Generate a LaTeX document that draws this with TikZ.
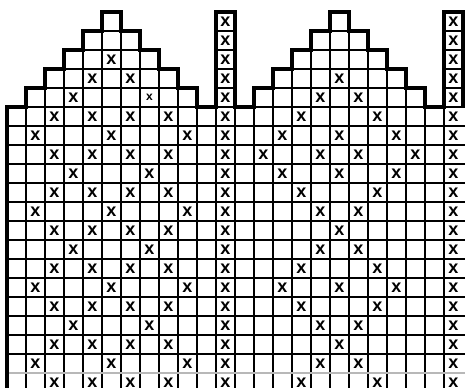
\documentclass[tikz,border=0pt]{standalone}
\usepackage{fontspec}
\setsansfont{Liberation Sans}
\tikzset{
  cell/.style={draw=black, line width=1pt},
  rim/.style={draw=black, line width=2.6pt, line join=miter},
  stitch/.style={inner sep=0pt, font=\sffamily\bfseries\fontsize{13.5}{13.5}\selectfont},
  stitchsm/.style={inner sep=0pt, font=\sffamily\bfseries\fontsize{9}{9}\selectfont},
}

\begin{document}
\begin{tikzpicture}[x=0.5cm, y=0.5cm]
  \useasboundingbox (-0.368,0.632) rectangle (24.105,-19.737);
  \clip (-0.368,0.632) rectangle (24.105,-19.737);

  % peaks, 2 repeats
  \foreach \r in {0,...,4} {
    \foreach \c in {-\r,...,\r} {
      \draw[cell] (5+\c,-\r) rectangle (6+\c,-\r-1);
      \draw[cell] (17+\c,-\r) rectangle (18+\c,-\r-1);
    }
    \draw[cell] (11,-\r) rectangle (12,-\r-1);
    \draw[cell] (23,-\r) rectangle (24,-\r-1);
  }

  % body
  \foreach \r in {5,...,18}
    \draw[cell] (0,-\r) -- (24.2,-\r);
  \foreach \c in {1,...,23}
    \draw[cell] (\c,-5) -- (\c,-20);
  \draw[draw=black!28, line width=1.8pt] (0,-19) -- (24.2,-19);

  % outline
  \draw[rim] (0,-20) -- (0,-5) -- (1,-5) -- (1,-4) -- (2,-4) -- (2,-3) -- (3,-3) -- (3,-2)
    -- (4,-2) -- (4,-1) -- (5,-1) -- (5,0) -- (6,0) -- (6,-1) -- (7,-1) -- (7,-2) -- (8,-2)
    -- (8,-3) -- (9,-3) -- (9,-4) -- (10,-4) -- (10,-5) -- (11,-5) -- (11,0) -- (12,0)
    -- (12,-5) -- (13,-5) -- (13,-4) -- (14,-4) -- (14,-3) -- (15,-3) -- (15,-2) -- (16,-2)
    -- (16,-1) -- (17,-1) -- (17,0) -- (18,0) -- (18,-1) -- (19,-1) -- (19,-2) -- (20,-2)
    -- (20,-3) -- (21,-3) -- (21,-4) -- (22,-4) -- (22,-5) -- (23,-5) -- (23,0) -- (24,0)
    -- (24,-5);

  % edge columns
  \foreach \r in {0,...,19} {
    \node[stitch] (ea-\r) at (11.5,{-\r-0.5}) {x};
    \node[stitch] (eb-\r) at (23.5,{-\r-0.5}) {x};
  }

  % first repeat
  \foreach \r/\cols in {2/{5},3/{4,6},4/{3},5/{2,4,6,8},6/{1,5,9},7/{2,4,6,8},8/{3,7},
      9/{2,4,6,8},10/{1,5,9},11/{2,4,6,8},12/{3,7},13/{2,4,6,8},14/{1,5,9},
      15/{2,4,6,8},16/{3,7},17/{2,4,6,8},18/{1,5,9},19/{2,4,6,8}}
    \foreach \c in \cols
      \node[stitch] (a-\c-\r) at ({\c+0.5},{-\r-0.5}) {x};
  \node[stitchsm] (a-7-4) at (7.5,-4.5) {x};

  % second repeat
  \foreach \r/\cols in {3/{5},4/{4,6},5/{3,7},6/{2,5,8},7/{1,4,6,9},8/{2,5,8},9/{3,7},
      10/{4,6},11/{5},12/{4,6},13/{3,7},14/{2,5,8},15/{3,7},16/{4,6},17/{5},
      18/{4,6},19/{3,7}}
    \foreach \c in \cols
      \node[stitch] (b-\c-\r) at ({\c+12.5},{-\r-0.5}) {x};
\end{tikzpicture}
\end{document}
